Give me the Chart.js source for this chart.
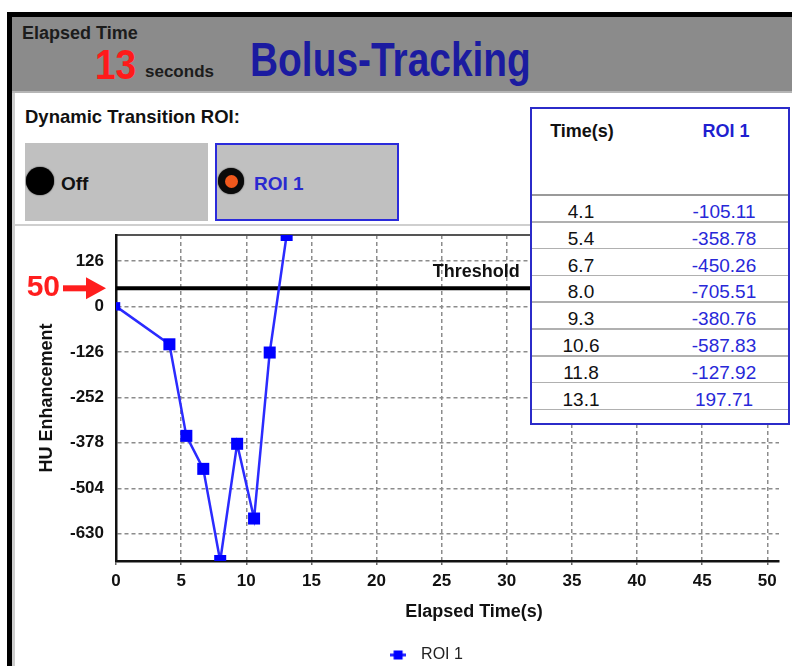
<!DOCTYPE html>
<html><head><meta charset="utf-8">
<script src="https://cdn.jsdelivr.net/npm/chart.js@4.4.1/dist/chart.umd.min.js"></script>
<style>
html,body{margin:0;padding:0;background:#fff;}
body{width:792px;height:666px;overflow:hidden;position:relative;font-family:"Liberation Sans",Arial,sans-serif;}
.abs{position:absolute;white-space:nowrap;}
.b{font-weight:bold;}
</style></head><body>
<div class="abs" style="left:7px;top:12px;width:785px;height:654px;border-top:5px solid #000;border-left:5px solid #000;box-sizing:border-box;"></div>
<div class="abs" style="left:12px;top:93px;width:3px;height:573px;background:#cdcdcd"></div>
<div class="abs" style="left:12px;top:17px;width:780px;height:74px;background:#8b8b8b;border-bottom:2px solid #b5b5b5"></div>
<div class="abs b" style="left:22px;top:22px;height:22px;line-height:22px;font-size:18px;color:#1c1c1c">Elapsed Time</div>
<div id="secs" class="abs b" style="left:95px;top:39px;height:50px;line-height:50px;font-size:43px;color:#ff1a1a;transform:scaleX(0.86);transform-origin:left center"></div>
<div class="abs b" style="left:145px;top:61px;height:22px;line-height:22px;font-size:17px;color:#1c1c1c">seconds</div>
<div class="abs b" style="left:250px;top:31px;height:58px;line-height:58px;font-size:48px;color:#1b1ba0;transform:scaleX(0.81);transform-origin:left center">Bolus-Tracking</div>

<div class="abs b" style="left:25px;top:105px;height:24px;line-height:24px;font-size:18.5px;color:#111">Dynamic Transition ROI:</div>
<div class="abs" style="left:25px;top:143px;width:183px;height:78px;background:#c0c0c0"></div>
<div class="abs" style="left:26px;top:167px;width:28px;height:28px;border-radius:50%;background:#000;box-shadow:0 0 1.5px #000"></div>
<div class="abs b" style="left:61px;top:172px;height:24px;line-height:24px;font-size:19px;color:#111">Off</div>
<div class="abs" style="left:215px;top:143px;width:184px;height:78px;background:#c0c0c0;border:2px solid #2b2bdb;box-sizing:border-box"></div>
<div class="abs" style="left:218px;top:168px;width:26px;height:26px;border-radius:50%;background:#0a0a0a;box-shadow:0 0 1.5px #000"></div>
<div class="abs" style="left:224.5px;top:174.5px;width:13px;height:13px;border-radius:50%;background:#f0581c"></div>
<div id="btnroi" class="abs b" style="left:254px;top:172px;height:24px;line-height:24px;font-size:19px;color:#2a2ad0"></div>
<div class="abs" style="left:15px;top:224px;width:515px;height:2px;background:#cfcfcf"></div>

<canvas id="c" width="812" height="447" style="position:absolute;left:17px;top:226px;width:812px;height:447px;z-index:1"></canvas>

<div id="tbl" class="abs" style="left:530px;top:107px;width:260px;height:318px;border:2px solid #2b2bc9;box-sizing:border-box;background:#fff;z-index:2"></div>

<script>
// ---- data ----
const timeSeconds = [0, 4.1, 5.4, 6.7, 8.0, 9.3, 10.6, 11.8, 13.1];
const roi1HU = [0, -105.11, -358.78, -450.26, -705.51, -380.76, -587.83, -127.92, 197.71];
const thresholdHU = 50;
const xTickValues = [0, 5, 10, 15, 20, 25, 30, 35, 40, 45, 50];
const yTickValues = [-630, -504, -378, -252, -126, 0, 126];
const xAxisMax = 50.9;
const seriesName = 'ROI 1';
const thresholdLabel = 'Threshold';
const thresholdLabelAt = 31;
const tableTimes = timeSeconds.slice(1);
const tableValues = roi1HU.slice(1);

// ---- header / panel text from data ----
document.getElementById('secs').textContent = String(Math.round(timeSeconds[timeSeconds.length - 1]));
document.getElementById('btnroi').textContent = seriesName;

// ---- table ----
const tbl = document.getElementById('tbl');
function cell(txt, cx, cy, size, bold, color) {
  const d = document.createElement('div');
  d.className = 'abs';
  d.style.cssText = `left:${cx - 60}px;width:120px;text-align:center;top:${cy - 12}px;height:24px;line-height:24px;font-size:${size}px;font-weight:${bold ? 'bold' : 'normal'};color:${color}`;
  d.textContent = txt;
  tbl.appendChild(d);
}
function hline(y, w, c) {
  const d = document.createElement('div');
  d.className = 'abs';
  d.style.cssText = `left:0;width:256px;top:${y}px;height:${w}px;background:${c}`;
  tbl.appendChild(d);
}
cell('Time(s)', 50, 22, 18, true, '#111');
cell(seriesName, 194, 22, 18, true, '#1f1fd0');
hline(85, 2, '#9a9a9a');
const rowH = 26.8;
tableTimes.forEach((t, i) => {
  const top = 86 + i * rowH;
  cell(t.toFixed(1), 49, top + 17, 19, false, '#111');
  cell(tableValues[i].toFixed(2), 192, top + 17, 19, false, '#2828d8');
  hline(top + rowH - 0.75, 1.5, '#b0b0b0');
});

// ---- chart ----
const FONT = '"Liberation Sans", Arial, sans-serif';
Chart.defaults.font.family = FONT;

const legendMark = document.createElement('canvas');
legendMark.width = 16; legendMark.height = 10;
(() => {
  const c = legendMark.getContext('2d');
  c.fillStyle = '#2b2bff'; c.fillRect(0, 3.5, 16, 3);
  c.fillStyle = '#0000ff'; c.fillRect(3.5, 0.5, 9, 9);
})();

const overlay = {
  id: 'overlay',
  afterDatasetsDraw(chart) {
    const {ctx, scales: {x, y}} = chart;
    const ty = y.getPixelForValue(thresholdHU);
    ctx.save();
    ctx.font = 'bold 18px ' + FONT;
    ctx.fillStyle = '#111';
    ctx.textAlign = 'right';
    ctx.textBaseline = 'alphabetic';
    ctx.fillText(thresholdLabel, x.getPixelForValue(thresholdLabelAt), ty - 11);
    ctx.restore();
  },
  afterDraw(chart) {
    const {ctx, chartArea: a, scales: {y}} = chart;
    const ty = y.getPixelForValue(thresholdHU);
    ctx.save();
    // red arrow pointing at threshold value
    ctx.fillStyle = '#ff1e1e';
    ctx.fillRect(a.left - 53, ty - 3, 25, 6);
    ctx.beginPath();
    ctx.moveTo(a.left - 30, ty - 11);
    ctx.lineTo(a.left - 10, ty);
    ctx.lineTo(a.left - 30, ty + 11);
    ctx.closePath();
    ctx.fill();
    ctx.font = 'bold 30px ' + FONT;
    ctx.textAlign = 'right';
    ctx.textBaseline = 'middle';
    ctx.fillText(String(thresholdHU), a.left - 56, ty - 1);
    // x-axis title
    ctx.fillStyle = '#111';
    ctx.font = 'bold 18px ' + FONT;
    ctx.textAlign = 'center';
    ctx.fillText('Elapsed Time(s)', (a.left + a.right) / 2 + 26.5, a.bottom + 51);
    ctx.restore();
  }
};

const gridStyle = {color: '#8c8c8c', lineWidth: 1.5};

new Chart(document.getElementById('c'), {
  type: 'line',
  data: {
    datasets: [
      {
        label: seriesName,
        data: timeSeconds.map((t, i) => ({x: t, y: roi1HU[i]})),
        borderColor: '#2b2bff',
        borderWidth: 2.5,
        pointStyle: 'rect',
        pointRadius: ctx => ctx.dataIndex === 0 ? 6 : 8.5,
        pointBackgroundColor: '#0000ff',
        pointBorderColor: '#0000ff',
        pointBorderWidth: 0,
        tension: 0,
        clip: 0
      },
      {
        label: thresholdLabel,
        data: [{x: 0, y: thresholdHU}, {x: xAxisMax, y: thresholdHU}],
        borderColor: '#000',
        borderWidth: 4,
        pointRadius: 0,
        clip: 0
      }
    ]
  },
  options: {
    responsive: false,
    animation: false,
    devicePixelRatio: 1,
    layout: {padding: {left: 0, top: 9, right: 0, bottom: 0}},
    plugins: {
      tooltip: {enabled: false},
      legend: {
        position: 'bottom',
        labels: {
          filter: item => item.datasetIndex === 0,
          usePointStyle: true,
          pointStyle: legendMark,
          pointStyleWidth: 30,
          padding: 6,
          color: '#222',
          font: {size: 16, family: FONT}
        }
      }
    },
    scales: {
      x: {
        type: 'linear', position: 'bottom', min: 0, max: xAxisMax,
        afterBuildTicks: s => { s.ticks = xTickValues.map(v => ({value: v})); },
        afterFit: s => { s.height = 80; },
        grid: {...gridStyle, drawTicks: true, tickLength: 4, tickColor: '#666', tickWidth: 1.5},
        border: {display: true, color: '#111', width: 2.5, dash: [4, 3]},
        ticks: {autoSkip: false, maxRotation: 0, padding: 6, color: '#111', font: {size: 17, weight: 'bold'}, callback: v => String(v)},
        title: {display: false}
      },
      xTop: {
        type: 'linear', position: 'top', min: 0, max: xAxisMax,
        ticks: {display: false},
        grid: {display: false, drawTicks: false},
        border: {display: true, color: '#555', width: 2},
        afterFit: s => { s.height = 0; }
      },
      y: {
        type: 'linear', position: 'left',
        min: Math.min(...roi1HU), max: Math.max(...roi1HU),
        afterBuildTicks: s => { s.ticks = yTickValues.map(v => ({value: v})); },
        afterFit: s => { s.width = 99; s.paddingTop = 0; s.paddingBottom = 0; },
        grid: {...gridStyle, drawTicks: false},
        border: {display: true, color: '#111', width: 2.5, dash: [4, 3]},
        ticks: {padding: 12, color: '#111', font: {size: 17, weight: 'bold'}, callback: v => String(v)},
        title: {display: true, text: 'HU Enhancement', color: '#111', font: {size: 18, weight: 'bold'}, padding: {top: 19, bottom: 0}}
      },
      yRight: {
        type: 'linear', position: 'right',
        ticks: {display: false},
        grid: {display: false, drawTicks: false},
        border: {display: false},
        afterFit: s => { s.width = 50; s.paddingTop = 0; s.paddingBottom = 0; }
      }
    }
  },
  plugins: [overlay]
});
</script>
</body></html>
